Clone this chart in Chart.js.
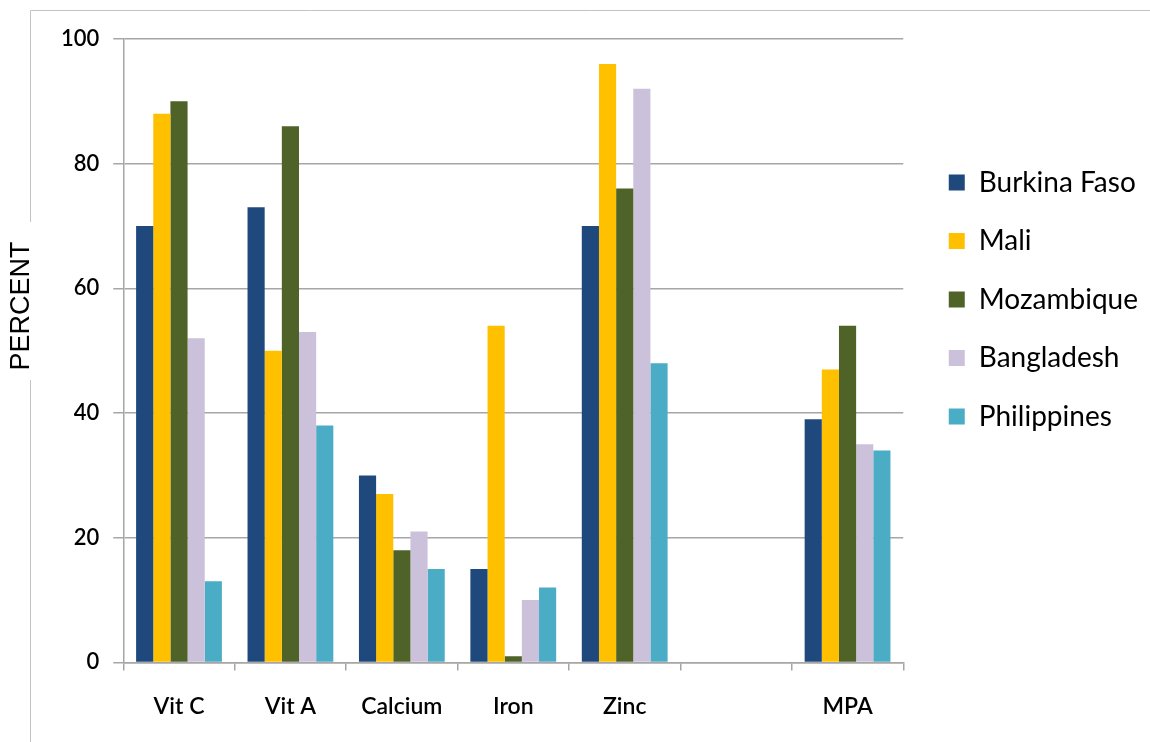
<!DOCTYPE html>
<html>
<head>
<meta charset="utf-8">
<script src="https://cdn.jsdelivr.net/npm/chart.js@4"></script>
<style>
  html, body { margin:0; padding:0; background:#fff; }
  #wrap { width:1150px; height:742px; }
</style>
</head>
<body>
<div id="wrap"><canvas id="nutrients"></canvas></div>
<script>
const categories = ["Vit C","Vit A","Calcium","Iron","Zinc","","MPA"];

const burkinaFaso = [70,73,30,15,70,null,39];
const mali        = [88,50,27,54,96,null,47];
const mozambique  = [90,86,18,1,76,null,54];
const bangladesh  = [52,53,21,10,92,null,35];
const philippines = [13,38,15,12,48,null,34];

const yTicks = [0,20,40,60,80,100];

const colors = ["#1f497d","#ffc000","#4f6228","#ccc1da","#4bacc6"];

const gridGray = "#a6a6a6";

// slide frame + rotated axis title
const framePlugin = {
    id:"frame",
    beforeDraw(chart){
        const ctx = chart.ctx;
        ctx.save();
        ctx.strokeStyle = "#c3c3c3";
        ctx.lineWidth = 1;
        ctx.beginPath();
        ctx.moveTo(30.5,742);
        ctx.lineTo(30.5,380);
        ctx.moveTo(30.5,222);
        ctx.lineTo(30.5,10.5);
        ctx.lineTo(1150,10.5);
        ctx.stroke();

        ctx.translate(22,306);
        ctx.rotate(-Math.PI/2);
        ctx.fillStyle = "#000";
        ctx.font = "27px 'Liberation Sans', Arial, sans-serif";
        ctx.textAlign = "center";
        ctx.textBaseline = "middle";
        ctx.fillText("PERCENT",0,0);
        ctx.restore();
    }
};

const names = ["Burkina Faso","Mali","Mozambique","Bangladesh","Philippines"];
const series = [burkinaFaso,mali,mozambique,bangladesh,philippines];

new Chart(document.getElementById("nutrients"),{

    type:"bar",

    data:{
        labels:categories,
        datasets:series.map((s,i)=>({
            label:names[i],
            data:s,
            backgroundColor:colors[i],
            borderWidth:0,
            categoryPercentage:0.77,
            barPercentage:1.0
        }))
    },

    options:{
        responsive:true,
        maintainAspectRatio:false,
        animation:false,
        layout:{
            padding:{top:39,left:47,right:2,bottom:0}
        },
        plugins:{
            tooltip:{enabled:false},
            legend:{
                position:"right",
                align:"start",
                maxWidth:233,
                title:{
                    display:true,
                    text:"",
                    font:{size:10},
                    padding:{top:87,bottom:0}
                },
                labels:{
                    boxWidth:16,
                    boxHeight:16,
                    padding:30.5,
                    color:"#000",
                    font:{family:"Lato",size:28}
                }
            }
        },
        scales:{
            x:{
                grid:{
                    display:true,
                    offset:true,
                    drawOnChartArea:false,
                    drawTicks:true,
                    tickLength:8,
                    color:gridGray,
                    lineWidth:1.5
                },
                border:{display:true,color:gridGray,width:1.5},
                ticks:{
                    color:"#000",
                    padding:22,
                    font:{family:"Lato",size:23,weight:"600"}
                }
            },
            y:{
                min:0,
                max:100,
                afterBuildTicks(scale){
                    scale.ticks = yTicks.map(v=>({value:v}));
                },
                grid:{
                    color:gridGray,
                    lineWidth:1.5,
                    tickLength:10
                },
                border:{display:true,color:gridGray,width:1.5},
                ticks:{
                    color:"#000",
                    padding:14,
                    font:{family:"Lato",size:22,weight:"600"}
                }
            },
            gap:{
                type:"linear",
                position:"right",
                display:true,
                grid:{display:false},
                border:{display:false},
                ticks:{display:false},
                afterFit(scale){
                    scale.width = 15;
                }
            }
        }
    },

    plugins:[framePlugin]
});
</script>
</body>
</html>
